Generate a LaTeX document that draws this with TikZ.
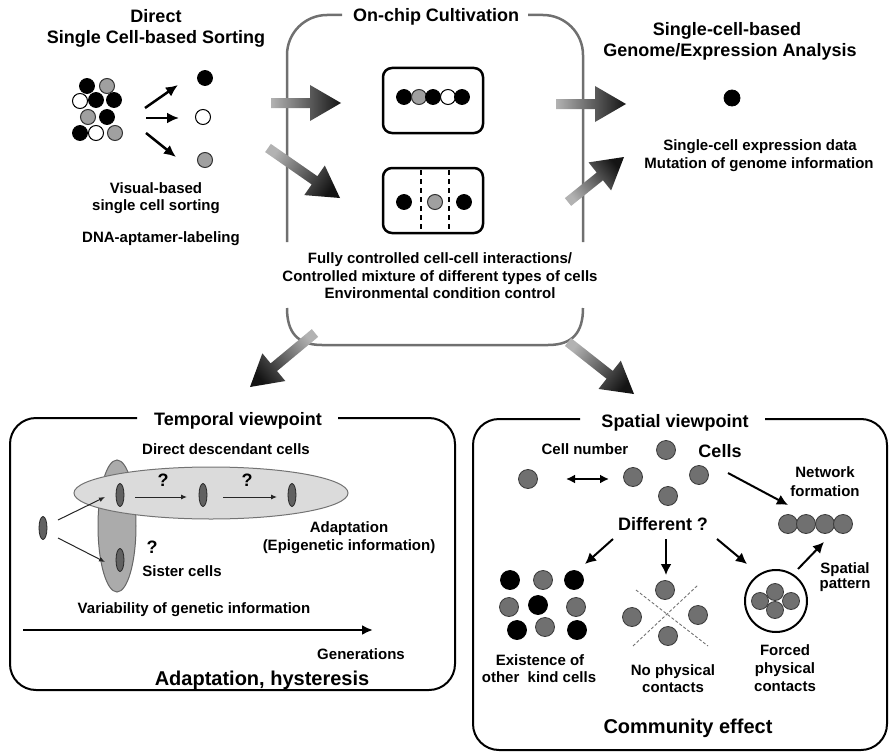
\documentclass[tikz,border=0pt]{standalone}
\usepackage{fontspec}
\setmainfont{Liberation Sans}
\usetikzlibrary{calc,arrows.meta}
\definecolor{cellgray}{HTML}{707070}
\definecolor{cellline}{HTML}{3A3A3A}
\definecolor{lightcell}{HTML}{A0A0A0}
\definecolor{boxgray}{HTML}{707070}
\newcommand{\fatarrow}[3]{%
  \coordinate (#1hb) at ($(#2)!31pt!(#1)$);
  \shade[left color=black!30, right color=black!92, shading angle=#3]
    ($(#1)!5pt!90:(#2)$) -- ($(#1hb)!5pt!90:(#2)$) -- ($(#1hb)!18pt!90:(#2)$) --
    (#2) -- ($(#1hb)!18pt!-90:(#2)$) -- ($(#1hb)!5pt!-90:(#2)$) --
    ($(#1)!5pt!-90:(#2)$) -- cycle;
}
\begin{document}
\begin{tikzpicture}[x=1pt,y=-1pt,
  lbl/.style={font=\fontsize{15}{17}\selectfont\bfseries, inner sep=0pt, anchor=base},
  ttl/.style={font=\fontsize{18}{20}\selectfont\bfseries, inner sep=0pt, anchor=base},
  big/.style={font=\fontsize{20}{22}\selectfont\bfseries, inner sep=0pt, anchor=base},
  ck/.style={fill=black, draw=black, line width=0.8pt},
  cw/.style={fill=white, draw=black, line width=1pt},
  cg/.style={fill=lightcell, draw=black!80, line width=1pt},
  sc/.style={fill=cellgray, draw=cellline, line width=0.8pt},
  sk/.style={fill=black, draw=black, line width=0.8pt},
  tc/.style={fill=black!62, draw=black!85, line width=0.8pt},
  chip/.style={draw=black, line width=2.5pt, rounded corners=9pt},
  panel/.style={draw=black, line width=2pt, rounded corners=26pt},
  sortarrow/.style={draw=black, line width=2.5pt, -{Latex[length=12pt,width=11pt]}},
  thinarrow/.style={draw=black!85, line width=1pt, -{Latex[length=6pt,width=5pt]}},
  sparrow/.style={draw=black, line width=2pt, -{Latex[length=11pt,width=11pt]}}]
\useasboundingbox (0,0) rectangle (889,752);

% ---------------- top-left: sorting ----------------
\node[ttl] (dir1) at (156,23) {Direct};
\node[ttl] (dir2) at (156,44) {Single Cell-based Sorting};
\draw[ck] (87,86) circle[radius=7.5pt];
\draw[cg] (107,86) circle[radius=7.5pt];
\draw[cw] (80,101) circle[radius=7.5pt];
\draw[ck] (96,100) circle[radius=7.5pt];
\draw[ck] (114,100) circle[radius=7.5pt];
\draw[cg] (88,117) circle[radius=7.5pt];
\draw[ck] (107,117) circle[radius=7.5pt];
\draw[ck] (80,133) circle[radius=7.5pt];
\draw[cw] (96,133) circle[radius=7.5pt];
\draw[cg] (115,133) circle[radius=7.5pt];
\coordinate (s1a) at (145,108); \coordinate (s1b) at (178,85);
\coordinate (s2a) at (146,118); \coordinate (s2b) at (179,118);
\coordinate (s3a) at (146,133); \coordinate (s3b) at (176,157);
\draw[sortarrow] (s1a) -- (s1b);
\draw[sortarrow] (s2a) -- (s2b);
\draw[sortarrow] (s3a) -- (s3b);
\draw[ck] (205,78) circle[radius=7.5pt];
\draw[cw] (203,117) circle[radius=7.5pt];
\draw[cg] (205,160) circle[radius=7.5pt];
\node[lbl] (vb1) at (156,193) {Visual-based};
\node[lbl] (vb2) at (156,210) {single cell sorting};
\node[lbl] (dna) at (161,242) {DNA-aptamer-labeling};

% ---------------- top-middle: on-chip cultivation ----------------
\draw[boxgray, line width=2.5pt, rounded corners=40pt] (342,15) -- (287,15) -- (287,242);
\draw[boxgray, line width=2.5pt, rounded corners=40pt] (528,15) -- (583,15) -- (583,242);
\draw[boxgray, line width=2.5pt] (287,308) .. controls (287,332) and (297,345) .. (322,345)
   -- (548,345) .. controls (573,345) and (583,332) .. (583,308);
\node[ttl] (oc) at (436,22) {On-chip Cultivation};
\draw[chip] (383,68) rectangle (483,133);
\draw[ck] (404,97) circle[radius=7.5pt];
\draw[cg] (419,97) circle[radius=7.5pt];
\draw[ck] (433,97) circle[radius=7.5pt];
\draw[cw] (448,97) circle[radius=7.5pt];
\draw[ck] (462,97) circle[radius=7.5pt];
\draw[chip] (383,168) rectangle (483,233);
\draw[black, line width=1.6pt, dash pattern=on 5pt off 4pt] (421,170) -- (421,232);
\draw[black, line width=1.6pt, dash pattern=on 5pt off 4pt] (449,170) -- (449,232);
\draw[ck] (404,202) circle[radius=7.5pt];
\draw[cg] (435,202) circle[radius=7.5pt];
\draw[ck] (464,202) circle[radius=7.5pt];
\node[lbl] (fc1) at (440,263) {Fully controlled cell-cell interactions/};
\node[lbl] (fc2) at (440,281) {Controlled mixture of different types of cells};
\node[lbl] (fc3) at (440,298) {Environmental condition control};

% big gradient arrows
\coordinate (ga) at (271,103); \coordinate (gb) at (341,103);
\fatarrow{ga}{gb}{90}
\coordinate (gc) at (268,148); \coordinate (gd) at (340,198);
\fatarrow{gc}{gd}{55}
\coordinate (ge) at (556,104); \coordinate (gf) at (626,104);
\fatarrow{ge}{gf}{90}
\coordinate (gg) at (568,202); \coordinate (gh) at (624,157);
\fatarrow{gg}{gh}{129}
\coordinate (gi) at (315,333); \coordinate (gj) at (250,387);
\fatarrow{gi}{gj}{310}
\coordinate (gk) at (568,342); \coordinate (gl) at (634,394);
\fatarrow{gk}{gl}{52}

% ---------------- top-right ----------------
\node[ttl] (sa1) at (727,36) {Single-cell-based};
\node[ttl] (sa2) at (730,57) {Genome/Expression Analysis};
\draw[ck] (732,98) circle[radius=8pt];
\node[lbl] (se1) at (760,150) {Single-cell expression data};
\node[lbl] (se2) at (759,168) {Mutation of genome information};

% ---------------- bottom-left: temporal ----------------
\draw[panel] (137,418) -- (10,418) -- (10,690) -- (455,690) -- (455,418) -- (338,418);
\node[ttl] (tv) at (238,425) {Temporal viewpoint};
\node[lbl] (ddc) at (226,454) {Direct descendant cells};
\draw[fill=black!33, draw=black!60, line width=1pt] (117,526) ellipse[x radius=19pt, y radius=66pt];
\draw[fill=black!14, draw=black!55, line width=1pt] (211,493) ellipse[x radius=137pt, y radius=26pt];
\draw[tc] (120,495) ellipse[x radius=4pt, y radius=11.5pt];
\draw[tc] (203,495) ellipse[x radius=4pt, y radius=11.5pt];
\draw[tc] (292,495) ellipse[x radius=4pt, y radius=11.5pt];
\draw[tc] (43,528) ellipse[x radius=4pt, y radius=11.5pt];
\draw[tc] (120,560) ellipse[x radius=4pt, y radius=11.5pt];
\coordinate (ta) at (58,520); \coordinate (tb) at (105,497);
\coordinate (tcA) at (58,538); \coordinate (td) at (105,562);
\coordinate (te) at (135,497); \coordinate (tf) at (187,497);
\coordinate (tg) at (223,497); \coordinate (th) at (277,497);
\draw[thinarrow] (ta) -- (tb);
\draw[thinarrow] (tcA) -- (td);
\draw[thinarrow] (te) -- (tf);
\draw[thinarrow] (tg) -- (th);
\node[ttl] (q1) at (163,486) {?};
\node[ttl] (q2) at (247,486) {?};
\node[ttl] (q3) at (152,553) {?};
\node[lbl] (ad1) at (349,532) {Adaptation};
\node[lbl] (ad2) at (349,550) {(Epigenetic information)};
\node[lbl] (sis) at (182,576) {Sister cells};
\node[lbl] (var) at (194,613) {Variability of genetic information};
\coordinate (gen1) at (23,630); \coordinate (gen2) at (373,630);
\draw[black, line width=2.5pt, -{Latex[length=11pt,width=10pt]}] (gen1) -- (gen2);
\node[lbl] (gen) at (361,659) {Generations};
\node[big] (ah) at (262,685) {Adaptation, hysteresis};

% ---------------- bottom-right: spatial ----------------
\draw[panel] (580,419) -- (473,419) -- (473,750) -- (887,750) -- (887,419) -- (765,419);
\node[ttl] (sv) at (675,427) {Spatial viewpoint};
\node[lbl] (cn) at (585,454) {Cell number};
\node[ttl] (cells) at (720,457) {Cells};
\draw[sc] (666,450) circle[radius=9.5pt];
\draw[sc] (528,479) circle[radius=9.5pt];
\draw[sc] (633,477) circle[radius=9.5pt];
\draw[sc] (699,475) circle[radius=9.5pt];
\draw[sc] (668,496) circle[radius=9.5pt];
\coordinate (da) at (566,479); \coordinate (db) at (609,479);
\draw[black, line width=2pt, {Latex[length=9pt,width=9pt]}-{Latex[length=9pt,width=9pt]}] (da) -- (db);
\coordinate (na) at (728,473); \coordinate (nb) at (788,505);
\draw[sparrow] (na) -- (nb);
\node[lbl] (nw1) at (825,477) {Network};
\node[lbl] (nw2) at (825,496) {formation};
\draw[sc] (788,524) circle[radius=9.5pt];
\draw[sc] (806,524) circle[radius=9.5pt];
\draw[sc] (825,524) circle[radius=9.5pt];
\draw[sc] (843,524) circle[radius=9.5pt];
\node[ttl] (diff) at (663,530) {Different ?};
\coordinate (d1a) at (613,539); \coordinate (d1b) at (585,564);
\coordinate (d2a) at (666,539); \coordinate (d2b) at (666,575);
\coordinate (d3a) at (717,539); \coordinate (d3b) at (747,564);
\draw[sparrow] (d1a) -- (d1b);
\draw[sparrow] (d2a) -- (d2b);
\draw[sparrow] (d3a) -- (d3b);
\coordinate (spa) at (798,569); \coordinate (spb) at (824,542);
\draw[sparrow] (spa) -- (spb);
\node[lbl] (sp1) at (845,573) {Spatial};
\node[lbl] (sp2) at (845,588) {pattern};
% existence of other kind
\draw[sk] (510,580) circle[radius=9.5pt];
\draw[sc] (543,580) circle[radius=9.5pt];
\draw[sk] (574,580) circle[radius=9.5pt];
\draw[sc] (509,607) circle[radius=9.5pt];
\draw[sk] (538,605) circle[radius=9.5pt];
\draw[sc] (576,607) circle[radius=9.5pt];
\draw[sk] (517,630) circle[radius=9.5pt];
\draw[sc] (545,627) circle[radius=9.5pt];
\draw[sk] (577,630) circle[radius=9.5pt];
\node[lbl] (ex1) at (540,665) {Existence of};
\node[lbl] (ex2) at (539,682) {other\ \ kind cells};
% no physical contacts
\draw[black!55, line width=0.9pt, dash pattern=on 3pt off 2pt] (633,646) -- (698,585);
\draw[black!55, line width=0.9pt, dash pattern=on 3pt off 2pt] (636,590) -- (708,646);
\draw[sc] (665,590) circle[radius=9.5pt];
\draw[sc] (632,617) circle[radius=9.5pt];
\draw[sc] (698,615) circle[radius=9.5pt];
\draw[sc] (668,636) circle[radius=9.5pt];
\node[lbl] (np1) at (673,675) {No physical};
\node[lbl] (np2) at (673,692) {contacts};
% forced contacts
\draw[black, line width=2pt] (776,601) circle[radius=31pt];
\draw[sc] (760,601) circle[radius=8.5pt];
\draw[sc] (791,601) circle[radius=8.5pt];
\draw[sc] (775,592) circle[radius=8.5pt];
\draw[sc] (775,610) circle[radius=8.5pt];
\node[lbl] (fo1) at (785,655) {Forced};
\node[lbl] (fo2) at (785,673) {physical};
\node[lbl] (fo3) at (785,691) {contacts};
\node[big] (ce) at (688,733) {Community effect};
\end{tikzpicture}
\end{document}
